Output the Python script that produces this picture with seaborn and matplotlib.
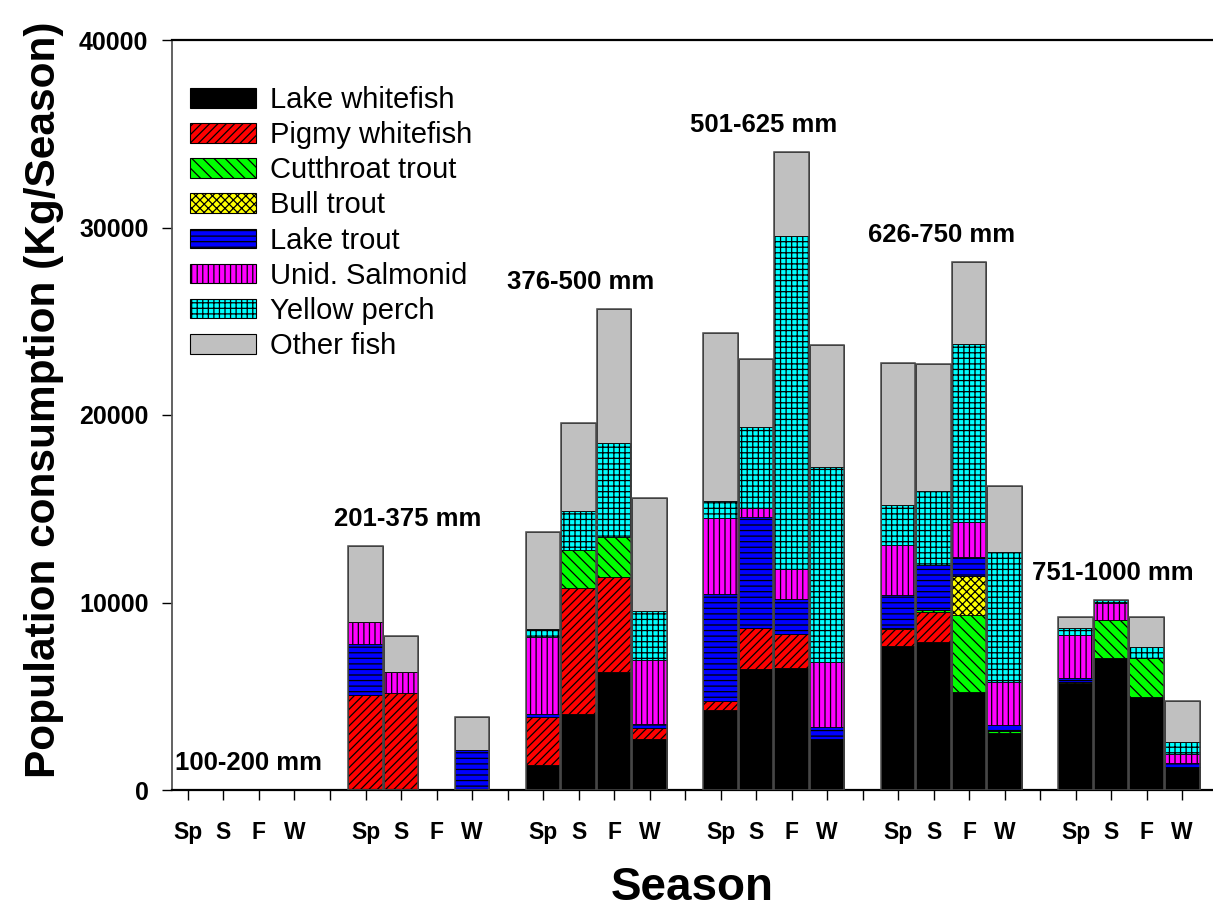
import numpy as np
import pandas as pd
import matplotlib
matplotlib.use("Agg")
import matplotlib.pyplot as plt
import seaborn as sns
from matplotlib.patches import Patch

# ---------------- data ----------------
size_classes = ["100-200 mm", "201-375 mm", "376-500 mm",
                "501-625 mm", "626-750 mm", "751-1000 mm"]
seasons = ["Sp", "S", "F", "W"]
species = ["Lake whitefish", "Pigmy whitefish", "Cutthroat trout", "Bull trout",
           "Lake trout", "Unid. Salmonid", "Yellow perch", "Other fish"]

# values per size class (Sp, S, F, W), kg/season
lake_whitefish = [0, 0, 0, 0,   0, 0, 0, 0,         1330, 4050, 6280, 2700,
                  4270, 6440, 6530, 2720,  7680, 7870, 5240, 3050,  5690, 7060, 4980, 1210]
pigmy_whitefish = [0, 0, 0, 0,  5070, 5160, 0, 0,   2540, 6700, 5070, 620,
                   500, 2190, 1780, 0,     900, 1650, 0, 0,        0, 0, 0, 0]
cutthroat_trout = [0, 0, 0, 0,  0, 0, 0, 0,         0, 2050, 2120, 0,
                   0, 0, 0, 0,             80, 80, 4090, 80,       0, 2010, 2040, 0]
bull_trout = [0, 0, 0, 0,       0, 0, 0, 0,         0, 0, 0, 0,
              0, 0, 0, 0,                  0, 0, 2060, 0,          90, 0, 0, 40]
lake_trout = [0, 0, 0, 0,       2720, 0, 0, 2130,   210, 0, 0, 180,
              5700, 5950, 1870, 620,       1720, 2400, 1030, 340,  180, 0, 0, 170]
unid_salmonid = [0, 0, 0, 0,    1150, 1130, 0, 0,   4090, 0, 0, 3430,
                 4040, 480, 1590, 3490,    2710, 0, 1870, 2300,    2310, 890, 0, 480]
yellow_perch = [0, 0, 0, 0,     0, 0, 0, 0,         440, 2080, 5030, 2610,
                930, 4310, 17780, 10410,   2110, 3950, 9520, 6950, 390, 180, 590, 640]
other_fish = [0, 0, 0, 0,       4060, 1920, 0, 1780, 5160, 4680, 7150, 6010,
              8910, 3600, 4470, 6480,      7600, 6760, 4330, 3510, 590, 0, 1640, 2200]

yticks = [0, 10000, 20000, 30000, 40000]

series = [lake_whitefish, pigmy_whitefish, cutthroat_trout, bull_trout,
          lake_trout, unid_salmonid, yellow_perch, other_fish]
colors = ["#000000", "#FF0000", "#00FF00", "#FFFF00",
          "#0000FF", "#FF00FF", "#00FFFF", "#C0C0C0"]
hatches = [None, "////", "\\\\\\", "xxxx", "---", "|||", "+++", None]

# ---------------- slots (4 seasons + a gap per size class) ----------------
slot_names, slot_labels, idx = [], [], []
for g in range(len(size_classes)):
    for s, sea in enumerate(seasons):
        slot_names.append(f"{g}-{sea}")
        slot_labels.append(sea)
        idx.append(g * 4 + s)
    if g < len(size_classes) - 1:
        slot_names.append(f"gap{g}")
        slot_labels.append("")
        idx.append(None)


def expand(arr):
    return np.array([arr[i] if i is not None else 0 for i in idx], dtype=float)


# ---------------- style ----------------
sns.set_style("ticks")
plt.rcParams["font.family"] = ["Liberation Sans", "DejaVu Sans"]
plt.rcParams["hatch.linewidth"] = 0.9
plt.rcParams["text.color"] = "black"
plt.rcParams["axes.labelcolor"] = "black"
plt.rcParams["xtick.color"] = "black"
plt.rcParams["ytick.color"] = "black"

fig = plt.figure(figsize=(12.13, 9.11), dpi=100)
ax = fig.add_axes([172 / 1213, 121 / 911, 1041 / 1213, 750 / 911])

bar_w = 0.98
bottom = np.zeros(len(slot_names))
for name, arr, col, h in zip(species, series, colors, hatches):
    v = expand(arr)
    df = pd.DataFrame({"slot": slot_names, "value": v})
    kw = {}
    if h:
        kw["hatch"] = h
    sns.barplot(data=df, x="slot", y="value", order=slot_names, color=col,
                saturation=1, errorbar=None, width=bar_w, bottom=bottom.copy(),
                edgecolor="black", linewidth=0.6, ax=ax, **kw)
    bottom += v

# outlines of whole bars
pos = np.arange(len(slot_names))
mask = bottom > 0
ax.bar(pos[mask], bottom[mask], width=bar_w, fill=False,
       edgecolor="#4a4a4a", linewidth=1.1, zorder=3)

# axes
ax.set_xlim(-0.45, 28.87)
ax.set_ylim(0, 40000)
ax.set_yticks(yticks)
ax.set_yticklabels([str(t) for t in yticks], fontsize=18, fontweight="bold")
ax.set_xticks(pos)
ax.set_xticklabels(slot_labels, fontsize=16.5, fontweight="bold")
ax.tick_params(axis="x", direction="out", length=7.5, width=1, pad=15, colors="black")
ax.tick_params(axis="y", direction="out", length=7, width=1, pad=10, colors="black")
for sp in ["top", "bottom"]:
    ax.spines[sp].set_visible(True)
    ax.spines[sp].set_color("black")
    ax.spines[sp].set_linewidth(1.6)
ax.spines["left"].set_color("#555555")
ax.spines["left"].set_linewidth(1.3)
ax.spines["right"].set_visible(False)

ax.set_xlabel("Season", fontsize=33, fontweight="bold", color="black")
ax.xaxis.set_label_coords(0.5, -0.102)
ax.set_ylabel("Population consumption (Kg/Season)", fontsize=30.5,
              fontweight="bold", color="black")
ax.yaxis.set_label_coords(-0.104, 0.52)

# size-class labels above each group
label_dx = [0.2, -0.31, -0.45, -0.28, -0.28, -0.45]
totals = [max(bottom[g * 5:g * 5 + 4]) for g in range(len(size_classes))]
for g, lab in enumerate(size_classes):
    ax.text(g * 5 + 1.5 + label_dx[g], totals[g] + 1450, lab, ha="center",
            va="center", fontsize=18.5, fontweight="bold", color="black")

handles = [Patch(facecolor=c, edgecolor="black", hatch=h, linewidth=0.8)
           for c, h in zip(colors, hatches)]
leg = ax.legend(handles, species, loc="upper left",
                frameon=False, fontsize=21, handlelength=2.25, handleheight=0.66,
                handletextpad=0.5, labelspacing=0.245, borderaxespad=0.0,
                borderpad=0.0)
leg.set_bbox_to_anchor((18 / 1041, 1 - 46 / 750), transform=ax.transAxes)
for t in leg.get_texts():
    t.set_color("black")

fig.savefig("out.png", dpi=100)
